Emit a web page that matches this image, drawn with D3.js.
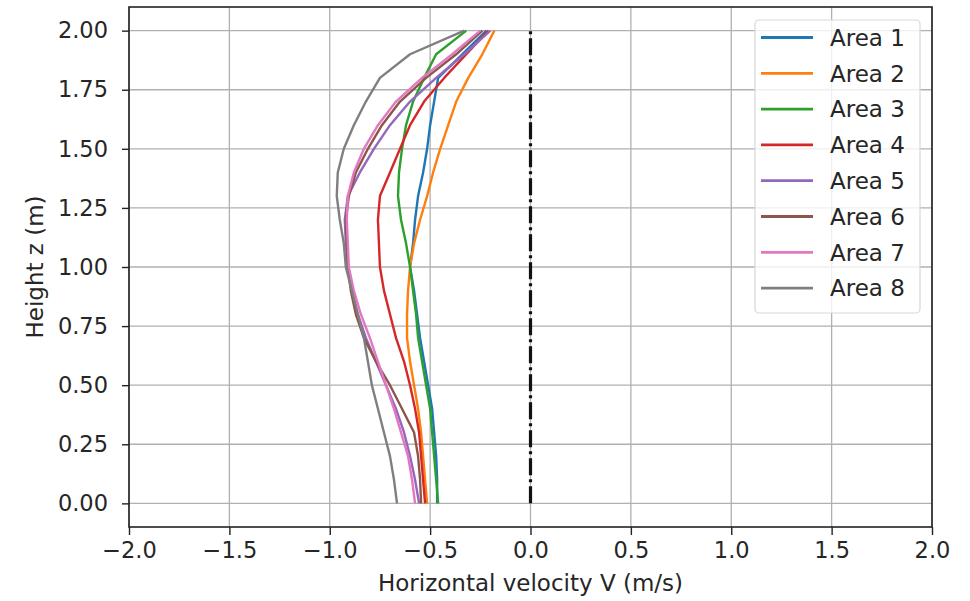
<!DOCTYPE html>
<html><head><meta charset="utf-8">
<script src="https://cdn.jsdelivr.net/npm/d3@7"></script>
<style>body{margin:0;background:#fff;} text{font-family:"DejaVu Sans",sans-serif;}</style>
</head><body>
<svg id="c" width="970" height="601"></svg>
<script>
const heights = [0,0.1,0.2,0.3,0.4,0.5,0.6,0.7,0.8,0.9,1.0,1.1,1.2,1.3,1.4,1.5,1.6,1.7,1.8,1.9,2.0];
const seriesNames = ["Area 1","Area 2","Area 3","Area 4","Area 5","Area 6","Area 7","Area 8"];
const area1 = [-0.465,-0.465,-0.47,-0.48,-0.49,-0.51,-0.53,-0.55,-0.565,-0.58,-0.60,-0.585,-0.575,-0.56,-0.535,-0.515,-0.50,-0.48,-0.46,-0.34,-0.22];
const area2 = [-0.515,-0.525,-0.535,-0.545,-0.56,-0.58,-0.60,-0.615,-0.615,-0.61,-0.60,-0.58,-0.55,-0.515,-0.485,-0.45,-0.41,-0.37,-0.31,-0.24,-0.18];
const area3 = [-0.46,-0.47,-0.48,-0.49,-0.50,-0.52,-0.54,-0.56,-0.57,-0.585,-0.60,-0.62,-0.645,-0.66,-0.655,-0.64,-0.62,-0.585,-0.53,-0.47,-0.32];
const area4 = [-0.525,-0.535,-0.545,-0.555,-0.575,-0.60,-0.63,-0.67,-0.70,-0.73,-0.75,-0.755,-0.76,-0.75,-0.70,-0.65,-0.60,-0.53,-0.43,-0.32,-0.21];
const area5 = [-0.555,-0.575,-0.60,-0.63,-0.67,-0.72,-0.77,-0.82,-0.86,-0.89,-0.91,-0.92,-0.925,-0.91,-0.85,-0.78,-0.70,-0.60,-0.47,-0.33,-0.20];
const area6 = [-0.545,-0.55,-0.56,-0.58,-0.64,-0.70,-0.77,-0.83,-0.87,-0.895,-0.91,-0.915,-0.92,-0.905,-0.87,-0.81,-0.74,-0.65,-0.52,-0.37,-0.24];
const area7 = [-0.575,-0.59,-0.61,-0.645,-0.68,-0.72,-0.76,-0.80,-0.845,-0.88,-0.905,-0.91,-0.915,-0.91,-0.88,-0.83,-0.76,-0.67,-0.54,-0.39,-0.25];
const area8 = [-0.665,-0.68,-0.70,-0.73,-0.76,-0.79,-0.81,-0.83,-0.86,-0.89,-0.92,-0.93,-0.95,-0.965,-0.96,-0.93,-0.88,-0.82,-0.75,-0.60,-0.33];
const seriesValues = [area1,area2,area3,area4,area5,area6,area7,area8];
const colors = ["#1f77b4","#ff7f0e","#2ca02c","#d62728","#9467bd","#8c564b","#e377c2","#7f7f7f"];
const xTicks = [-2.0,-1.5,-1.0,-0.5,0.0,0.5,1.0,1.5,2.0];
const yTicks = [0,0.25,0.5,0.75,1.0,1.25,1.5,1.75,2.0];
const refX = [0,0];
const refZ = [0,2];

const L=129, R=932, T=7, B=527;
const FS = 22.5;
const svg = d3.select("#c");
const x = d3.scaleLinear().domain([-2,2]).range([L,R]);
const y = d3.scaleLinear().domain([-0.1,2.1]).range([B,T]);
const minus = s => s.replace("-","\u2212");

// grid
const g = svg.append("g");
g.selectAll(".gx").data(xTicks).join("line").attr("x1",d=>x(d)).attr("x2",d=>x(d)).attr("y1",T).attr("y2",B)
 .attr("stroke","#b0b0b0").attr("stroke-width",1.3);
g.selectAll(".gy").data(yTicks).join("line").attr("y1",d=>y(d)).attr("y2",d=>y(d)).attr("x1",L).attr("x2",R)
 .attr("stroke","#b0b0b0").attr("stroke-width",1.3);

// reference dash-dot line
svg.append("path").datum(refX.map((v,i)=>[v,refZ[i]]))
 .attr("d",d3.line().x(d=>x(d[0])).y(d=>y(d[1])))
 .attr("stroke","#111").attr("stroke-width",3.2).attr("fill","none").attr("stroke-dasharray","17,4,3,4");

// series
const line = d3.line().x(d=>x(d[0])).y(d=>y(d[1]));
seriesValues.forEach((vals,i)=>{
  svg.append("path").datum(vals.map((v,j)=>[v,heights[j]])).attr("d",line)
   .attr("fill","none").attr("stroke",colors[i]).attr("stroke-width",2.4).attr("stroke-linejoin","round");
});

// axes
const xAxis = d3.axisBottom(x).tickValues(xTicks).tickFormat(d=>minus(d3.format(".1f")(d))).tickSize(8).tickPadding(7);
const yAxis = d3.axisLeft(y).tickValues(yTicks).tickFormat(d=>minus(d3.format(".2f")(d))).tickSize(7).tickPadding(14);
const gx = svg.append("g").attr("transform",`translate(0,${B})`).call(xAxis);
const gy = svg.append("g").attr("transform",`translate(${L},0)`).call(yAxis);
[gx,gy].forEach(a=>{a.select(".domain").remove(); a.selectAll("line").attr("stroke","#222").attr("stroke-width",1.4);
  a.selectAll("text").attr("font-size",FS).attr("fill","#262626").attr("font-family","DejaVu Sans");});

// frame
svg.append("rect").attr("x",L).attr("y",T).attr("width",R-L).attr("height",B-T).attr("fill","none").attr("stroke","#222").attr("stroke-width",1.6);

// axis labels
svg.append("text").attr("x",(L+R)/2).attr("y",591).attr("text-anchor","middle").attr("font-size",23).attr("fill","#262626").text("Horizontal velocity V (m/s)");
svg.append("text").attr("transform",`translate(43,${(T+B)/2}) rotate(-90)`).attr("text-anchor","middle").attr("font-size",23).attr("fill","#262626").text("Height z (m)");

// legend
const lg = svg.append("g");
lg.append("rect").attr("x",755).attr("y",20).attr("width",165).attr("height",293).attr("rx",4)
 .attr("fill","rgba(255,255,255,0.8)").attr("stroke","#d8d8d8").attr("stroke-width",1.2);
seriesNames.forEach((n,i)=>{
  const yy = 37.5 + i*35.8;
  lg.append("line").attr("x1",761).attr("x2",813).attr("y1",yy).attr("y2",yy).attr("stroke",colors[i]).attr("stroke-width",2.8);
  lg.append("text").attr("x",830).attr("y",yy).attr("dy","0.36em").attr("font-size",23).attr("fill","#262626").text(n);
});
</script>
</body></html>
